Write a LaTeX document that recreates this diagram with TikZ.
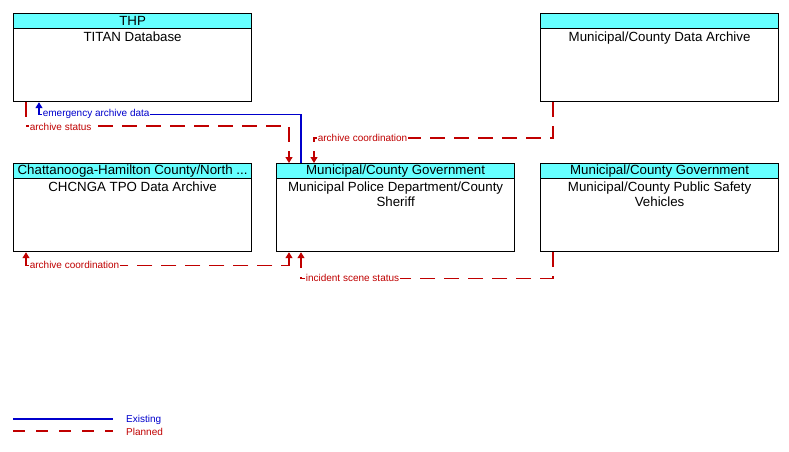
\documentclass[tikz,border=0pt]{standalone}
\usepackage{fontspec}
\setmainfont{Liberation Sans}
\usetikzlibrary{arrows.meta,calc}
\definecolor{hdrcyan}{RGB}{102,255,255}
\definecolor{exblue}{RGB}{0,0,204}
\definecolor{plred}{RGB}{192,0,0}
\begin{document}
\begin{tikzpicture}[x=1pt,y=-1pt,
  box/.style={draw=black, line width=1.2pt, minimum width=238pt, minimum height=88pt, anchor=north west, inner sep=0pt},
  hdr/.style={draw=black, line width=1.2pt, fill=hdrcyan, minimum width=238pt, minimum height=15pt, anchor=north, inner sep=0pt, font=\fontsize{13.3}{15}\selectfont},
  body/.style={anchor=north, align=center, inner sep=2.2pt, font=\fontsize{13.3}{15}\selectfont},
  lbl/.style={font=\fontsize{10}{12}\selectfont, fill=white, inner sep=0.6pt, anchor=west},
  legtext/.style={font=\fontsize{10}{12}\selectfont, anchor=west, inner sep=0pt},
  exist/.style={draw=exblue, line width=1.2pt},
  plan/.style={draw=plred, line width=1.2pt, dash pattern=on 15pt off 9pt},
  tip/.style={-{Triangle[width=7pt,length=6pt]}},
  tips/.style={{Triangle[width=7pt,length=6pt]}-{Triangle[width=7pt,length=6pt]}}
]
\useasboundingbox (0,0) rectangle (789,451);

% boxes
\node[box] (titan) at (13,13) {};
\node[hdr] (titanh) at (titan.north) {THP};
\node[body] (titanb) at (titanh.south) {TITAN Database};

\node[box] (archive) at (540,13) {};
\node[hdr] (archiveh) at (archive.north) {};
\node[body] (archiveb) at (archiveh.south) {Municipal/County Data Archive};

\node[box] (chc) at (13,163) {};
\node[hdr] (chch) at (chc.north) {Chattanooga-Hamilton County/North ...};
\node[body] (chcb) at (chch.south) {CHCNGA TPO Data Archive};

\node[box] (police) at (276,163) {};
\node[hdr] (policeh) at (police.north) {Municipal/County Government};
\node[body] (policeb) at (policeh.south) {Municipal Police Department/County\\Sheriff};

\node[box] (psv) at (540,163) {};
\node[hdr] (psvh) at (psv.north) {Municipal/County Government};
\node[body] (psvb) at (psvh.south) {Municipal/County Public Safety\\Vehicles};

% connectors
\draw[exist,tip] ($(police.north west)+(25,0)$) |- ($(titan.south west)+(26,12)$) -- ($(titan.south west)+(26,0)$);
\draw[plan,tip] ($(titan.south west)+(13,0)$) |- ($(police.north west)+(13,-37)$) -- ($(police.north west)+(13,0)$);
\draw[plan,tip] ($(archive.south west)+(13,0)$) |- ($(police.north west)+(38,-25)$) -- ($(police.north west)+(38,0)$);
\draw[plan,tips] ($(police.south west)+(13,0)$) |- ($(chc.south west)+(13,13)$) -- ($(chc.south west)+(13,0)$);
\draw[plan,tip] ($(psv.south west)+(13,0)$) |- ($(police.south west)+(25,26)$) -- ($(police.south west)+(25,0)$);

% labels
\node[lbl, text=exblue] (l1) at ($(titan.south west)+(29,12)$) {emergency archive data};
\node[lbl, text=plred] (l2) at ($(titan.south west)+(16,25)$) {archive status};
\node[lbl, text=plred] (l3) at ($(police.north west)+(41,-25)$) {archive coordination};
\node[lbl, text=plred] (l4) at ($(chc.south west)+(16,13)$) {archive coordination};
\node[lbl, text=plred] (l5) at ($(police.south west)+(29,26)$) {incident scene status};

% legend
\coordinate (e1) at (13,419);
\coordinate (e2) at (113,419);
\coordinate (p1) at (13,431);
\coordinate (p2) at (113,431);
\draw[exist] (e1) -- (e2);
\draw[plan, dash pattern=on 12pt off 11pt] (p1) -- (p2);
\node[legtext, text=exblue] (et) at (126,420) {Existing};
\node[legtext, text=plred] (pt) at (126,432) {Planned};
\end{tikzpicture}
\end{document}
